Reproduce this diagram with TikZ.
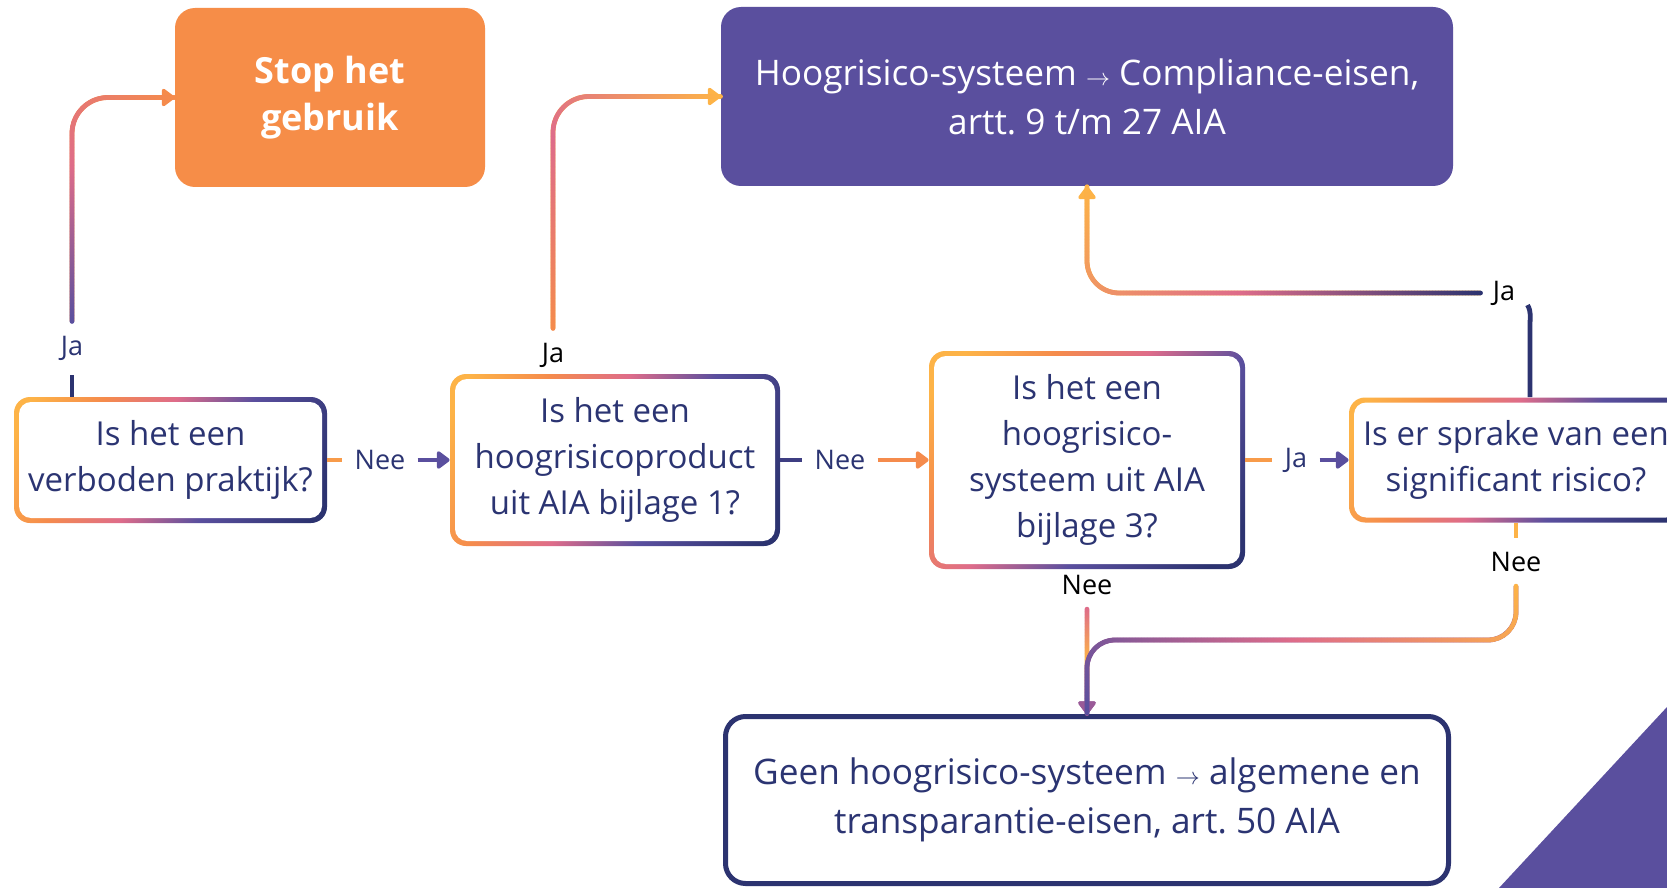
\documentclass[tikz,border=0pt]{standalone}
\usepackage{fontspec}
\setmainfont{Open Sans}
\usetikzlibrary{arrows.meta,decorations.markings}

\definecolor{gold}{HTML}{FDB347}
\definecolor{orng}{HTML}{F58B4C}
\definecolor{rosy}{HTML}{DE6C8A}
\definecolor{mauve}{HTML}{9A5A98}
\definecolor{indigo}{HTML}{5A4F9E}
\definecolor{navy}{HTML}{2C3370}
\definecolor{stopfill}{HTML}{F68D48}
\definecolor{txt}{HTML}{2B3472}

\pgfdeclarehorizontalshading{brand}{100bp}{color(0bp)=(gold); color(20bp)=(gold); color(33bp)=(orng); color(46bp)=(rosy); color(60bp)=(indigo); color(80bp)=(navy); color(100bp)=(navy)}

\newcommand\boxfont{\fontsize{16.5}{23}\selectfont}
\newcommand\bigboxfont{\fontsize{17.6}{24.5}\selectfont}
\newcommand\tagfont{\fontsize{13.5}{16}\selectfont}
\frenchspacing

\tikzset{
  qbox/.style={rounded corners=8pt, align=center, text=txt, font=\boxfont, inner sep=0pt,
    path picture={
      \shade[shading=brand, shading angle=#1] (path picture bounding box.south west) rectangle (path picture bounding box.north east);
      \fill[white, rounded corners=6pt] ([shift={(2.5pt,2.5pt)}]path picture bounding box.south west) rectangle ([shift={(-2.5pt,-2.5pt)}]path picture bounding box.north east);}},
  qbox/.default=-25,
  endbox/.style={rounded corners=10pt, align=center, text=white, font=\bigboxfont, inner sep=0pt},
  lbl/.style={inner xsep=6pt, inner ysep=7pt, font=\tagfont, text=txt},
  con/.style={line width=2.4pt},
  tip/.style={-{Triangle[length=7pt,width=10pt,round]}},
  fade/.style n args={3}{postaction={decorate, decoration={markings,
      mark=between positions 0 and 1 step 0.6pt with {
        \pgfmathsetmacro\fadepct{min(100,\pgfkeysvalueof{/pgf/decoration/mark info/distance from start}/\pgfdecoratedpathlength*100)}
        \ifdim\fadepct pt<50pt
          \pgfmathsetmacro\fadeval{2*\fadepct}\def\fadecol{#2!\fadeval!#1}
        \else
          \pgfmathsetmacro\fadeval{2*\fadepct-100}\def\fadecol{#3!\fadeval!#2}
        \fi
        \fill[\fadecol] (0,0) circle (1.2pt);}}}}
}

\begin{document}
\begin{tikzpicture}[x=0.5pt, y=-0.5pt]
  \path[use as bounding box, fill=white] (0,0) rectangle (1667,888);
  \fill[indigo] (1499,888) -- (1667,707) -- (1667,888) -- cycle;

  \node[lbl] (ja1) at (72,348) {Ja};
  \node[lbl, text=black] (ja2) at (553,355) {Ja};
  \node[lbl] (nee1) at (380,460) {Nee};
  \node[lbl] (nee2) at (840,460) {Nee};
  \node[lbl] (ja3) at (1296,460) {Ja};
  \node[lbl, text=black] (ja4) at (1504,293) {Ja};
  \node[lbl, text=black] (nee3) at (1087,585) {Nee};
  \node[lbl, text=black] (nee4) at (1516,562) {Nee};

  \node[endbox, fill=stopfill, minimum width=155pt, minimum height=89.5pt, font=\fontsize{18}{23.5}\selectfont\bfseries] (stop) at (330,97.5) {Stop het\\gebruik};
  \node[endbox, fill=indigo, minimum width=366pt, minimum height=89.5pt] (hoog) at (1087,96.5) {Hoogrisico-systeem ${\scriptstyle\rightarrow}$ Compliance-eisen,\\artt. 9 t/m 27 AIA};
  \node[qbox, minimum width=156.5pt, minimum height=63pt] (verb) at (170.5,460) {Is het een\\verboden praktijk?};
  \node[qbox, minimum width=165pt, minimum height=86pt] (prod) at (615,460) {Is het een\\hoogrisicoproduct\\uit AIA bijlage 1?};
  \node[qbox=-40, minimum width=158pt, minimum height=109pt] (sys) at (1087,460) {Is het een\\hoogrisico-\\systeem uit AIA\\bijlage 3?};
  \node[qbox, minimum width=167pt, minimum height=62.5pt] (sign) at (1516,460) {Is er sprake van een\\significant risico?};
  \node[rounded corners=10pt, draw=navy, line width=2.5pt, fill=white, minimum width=361.5pt, minimum height=83.5pt, align=center, text=txt, font=\bigboxfont] (geen) at (1087,800) {Geen hoogrisico-systeem ${\scriptstyle\rightarrow}$ algemene en\\transparantie-eisen, art. 50 AIA};

  \draw[con, navy] (72,0 |- verb.north) -- (ja1);
  \draw[con, tip, orng, fade={indigo}{rosy}{orng}, rounded corners=18pt] (ja1) |- (stop);
  \draw[con, tip, gold, fade={orng}{rosy}{gold}, rounded corners=18pt] (ja2) |- (hoog);
  \draw[con, orng!60!gold] (verb) -- (nee1);
  \draw[con, tip, indigo] (nee1) -- (prod);
  \draw[con, navy!60!indigo] (prod) -- (nee2);
  \draw[con, tip, orng] (nee2) -- (sys);
  \draw[con, orng!60!gold] (sys) -- (ja3);
  \draw[con, tip, indigo] (ja3) -- (sign);
  \draw[con, navy] (1530,0 |- sign.north) -- ++(0,-72) to[out=90, in=-60] ([yshift=-6pt]ja4.east);
  \draw[con, tip, gold, fade={navy}{rosy}{gold}, rounded corners=16pt] (ja4) -| (hoog);
  \draw[con, tip, mauve, fade={rosy}{gold}{mauve}] (nee3) -- (geen);
  \draw[con, gold] (sign) -- (nee4);
  \draw[con, tip, mauve, fade={gold}{rosy}{indigo}, rounded corners=14pt] (nee4) -- ++(0,78) -| (geen);
\end{tikzpicture}
\end{document}
